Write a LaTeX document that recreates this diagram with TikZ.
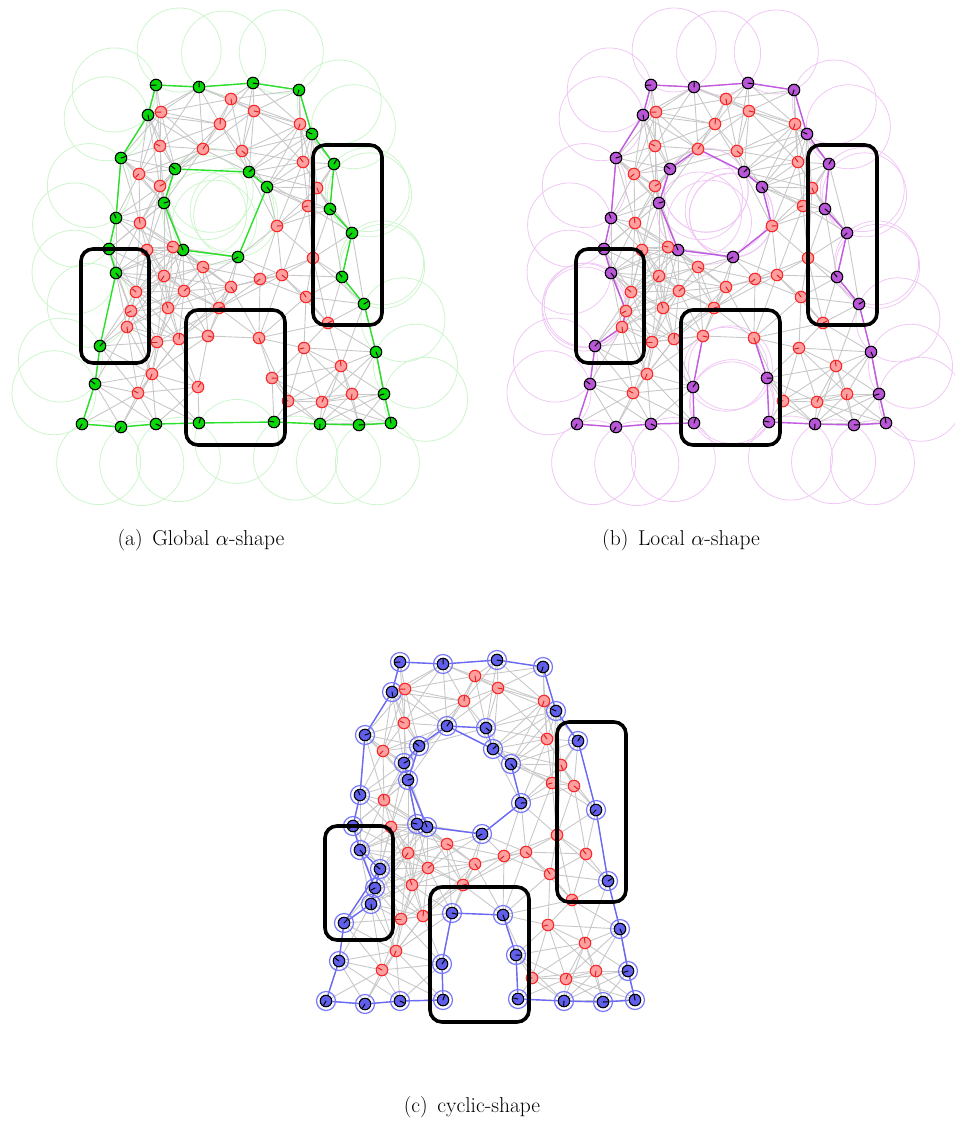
\documentclass[tikz,border=0pt]{standalone}
\usetikzlibrary{calc}
\pgfdeclarelayer{balls}
\pgfdeclarelayer{mesh}
\pgfdeclarelayer{bnd}
\pgfdeclarelayer{front}
\pgfsetlayers{balls,mesh,bnd,main,front}

\definecolor{cGf}{RGB}{10,215,10}
\definecolor{cGl}{RGB}{40,225,40}
\definecolor{cGb}{RGB}{205,245,205}
\definecolor{cRf}{RGB}{255,160,160}
\definecolor{cRd}{RGB}{250,40,40}
\definecolor{cRt}{RGB}{215,35,35}
\definecolor{cPf}{RGB}{185,85,215}
\definecolor{cPl}{RGB}{195,90,225}
\definecolor{cPb}{RGB}{240,200,245}
\definecolor{cBf}{RGB}{95,95,235}
\definecolor{cBl}{RGB}{105,105,245}
\definecolor{cBr}{RGB}{120,120,250}
\definecolor{cMesh}{RGB}{200,200,200}

\tikzset{
  pnode/.style={circle, inner sep=0pt, minimum size=11.5pt, line width=1.1pt},
  rednode/.style={pnode, draw=cRd, fill=cRf},
  gnode/.style={pnode, draw=black, fill=cGf},
  vnode/.style={pnode, draw=black, fill=cPf},
  bnode/.style={pnode, draw=black, fill=cBf},
  meshline/.style={draw=cMesh, line width=0.9pt},
  tickline/.style={line width=1pt, line cap=round},
  gbound/.style={draw=cGl, line width=1.4pt},
  vbound/.style={draw=cPl, line width=1.4pt},
  bbound/.style={draw=cBl, line width=1.4pt},
  gball/.style={draw=cGb, line width=0.8pt},
  vball/.style={draw=cPb, line width=0.8pt},
  bring/.style={draw=cBr, line width=1.2pt},
  blackbox/.style={draw=black, line width=3.6pt, rounded corners=12pt, inner sep=0pt},
  captext/.style={anchor=base, inner sep=0pt, font=\fontsize{21.5}{25}\selectfont},
}

\def\nonestr{none}
\def\pts{G1/82/424,G2/95/384,G3/100/346,G4/116/273,G5/109/249,G6/116/218,G7/121/158,G8/148/115,G9/156/85,G10/199/87,%
G11/253/83,G12/299/90,G13/312/134,G14/334/164,G15/330/209,G16/352/233,G17/342/277,G18/364/304,G19/376/352,G20/384/394,%
G21/391/423,G22/359/425,G23/320/424,G24/274/422,G25/199/423,G26/156/424,G27/121/427,%
H1/175/169,H2/249/172,H3/267/187,H4/238/257,H5/183/250,H6/164/203,%
R1/231/99,R2/161/112,R3/220/124,R4/254/111,R5/300/124,R6/160/146,R7/203/149,R8/242/151,R9/139/174,R10/303/162,%
R11/160/186,R12/317/188,R13/308/206,R14/140/223,R15/277/226,R16/147/250,R17/173/247,R18/313/258,R19/203/267,R20/164/276,%
R21/136/292,R22/184/291,R23/231/287,R24/131/311,R25/168/308,R26/219/308,R27/127/327,R28/157/342,R29/179/339,R30/208/336,%
R31/152/374,R32/138/393,R33/198/387,R34/282/275,R35/260/279,R36/306/297,R37/328/323,R38/259/338,R39/304/348,R40/341/366,%
R41/272/378,R42/352/394,R43/288/401,R44/322/402}

\foreach \nA/\xA/\yA [count=\k] in \pts {%
  \expandafter\xdef\csname pn\k\endcsname{\nA}%
  \expandafter\xdef\csname px\k\endcsname{\xA}%
  \expandafter\xdef\csname py\k\endcsname{\yA}%
}

\newcommand\setspecial[2]{\edef\tmpL{#2}\foreach \sS in \tmpL {\expandafter\gdef\csname is#1\sS\endcsname{}}}
\def\allG{G1,G2,G3,G4,G5,G6,G7,G8,G9,G10,G11,G12,G13,G14,G15,G16,G17,G18,G19,G20,G21,G22,G23,G24,G25,G26,G27}
\def\blueset{G1,G2,G3,G4,G5,G6,G7,G8,G9,G10,G11,G12,G13,G14,G16,G18,G19,G20,G21,G22,G23,G24,G25,G26,G27,H1,H2,H3,H4,H5,H6,R7,R8,R11,R15,R17,R21,R24,R27,R30,R33,R38,R41}
\setspecial{a}{\allG,H1,H2,H3,H4,H5,H6}
\setspecial{b}{\allG,H1,H2,H3,H4,H5,H6,R33,R41}
\setspecial{c}{\blueset}

\newcommand\panel[4]{%
  \foreach \k in {1,...,77}{%
    \edef\nm{\csname pn\k\endcsname}%
    \edef\xx{\csname px\k\endcsname}%
    \edef\yy{\csname py\k\endcsname}%
    \pgfmathtruncatemacro\tk{mod(\k*97+23,360)}%
    \ifcsname is#1\nm\endcsname
      \tikzset{cur/.style={#4}}\def\tkc{black}%
    \else
      \tikzset{cur/.style={rednode}}\def\tkc{cRt}%
    \fi
    \node[cur] (#1-\nm) at ({\xx+#2},{\yy+#3}) {};
    \draw[tickline,draw=\tkc] (#1-\nm.center) -- ++(\tk:4.6);
  }}

\newcommand\chain[3]{%
  \foreach \bq [remember=\bq as \bp (initially none)] in {#2}{%
    \ifx\bp\nonestr\else\draw[#3] (#1-\bp) -- (#1-\bq);\fi}}

\newcommand\balls[4]{%
  \foreach \bq [remember=\bq as \bp (initially none)] in {#2}{%
    \ifx\bp\nonestr\else
      \draw[#3] let \p1=(#1-\bp.center), \p2=(#1-\bq.center),
        \n1={atan2(\y2-\y1,\x2-\x1)},
        \n2={veclen(\x2-\x1,\y2-\y1)/2},
        \n3={sqrt(max(#4*#4-\n2*\n2,0))} in
        ({(\x1+\x2)/2+\n3*cos(\n1+90)},{(\y1+\y2)/2+\n3*sin(\n1+90)}) circle[radius=#4pt];
    \fi}}

\newcommand\boxes[3]{%
  \node[blackbox, minimum width=68pt, minimum height=114pt] (#1-boxL) at ({115+#2},{306+#3}) {};
  \node[blackbox, minimum width=99pt, minimum height=135pt] (#1-boxB) at ({235.5+#2},{377.5+#3}) {};
  \node[blackbox, minimum width=69pt, minimum height=180pt] (#1-boxR) at ({347.5+#2},{235+#3}) {};
}

\begin{document}
\begin{tikzpicture}[x=1pt,y=-1pt]
\useasboundingbox (0,0) rectangle (955,1135);

% nodes of the three panels
\panel{a}{0}{0}{gnode}
\panel{b}{495}{0}{vnode}
\panel{c}{244}{577}{bnode}

% communication mesh
\begin{pgfonlayer}{mesh}
\foreach \i in {1,...,76}{%
  \pgfmathtruncatemacro\iN{\i+1}%
  \edef\xI{\csname px\i\endcsname}\edef\yI{\csname py\i\endcsname}\edef\mI{\csname pn\i\endcsname}%
  \foreach \j in {\iN,...,77}{%
    \edef\xJ{\csname px\j\endcsname}\edef\yJ{\csname py\j\endcsname}%
    \pgfmathsetmacro\dd{veclen(\xI-\xJ,\yI-\yJ)}%
    \ifdim\dd pt<74pt
      \edef\mJ{\csname pn\j\endcsname}%
      \draw[meshline] (a-\mI) -- (a-\mJ) (b-\mI) -- (b-\mJ) (c-\mI) -- (c-\mJ);
    \fi
  }}
\end{pgfonlayer}

% boundaries
\begin{pgfonlayer}{bnd}
\chain{a}{G1,G2,G3,G4,G5,G6,G7,G8,G9,G10,G11,G12,G13,G14,G15,G16,G17,G18,G19,G20,G21,G22,G23,G24,G25,G26,G27,G1}{gbound}
\chain{a}{H1,H2,H3,H4,H5,H6,H1}{gbound}

\chain{b}{G1,G2,G3,R27,R24,G4,G5,G6,G7,G8,G9,G10,G11,G12,G13,G14,G15,G16,G17,G18,G19,G20,G21,G22,G23,G24,R41,R38}{vbound}
\chain{b}{R30,R33,G25,G26,G27,G1}{vbound}
\chain{b}{H1,R7,H2,H3,R15,H4,H5,H6,H1}{vbound}

\chain{c}{G1,G2,G3,R27,R24,R21,G4,G5,G6,G7,G8,G9,G10,G11,G12,G13,G14,G16,G18,G19,G20,G21,G22,G23,G24,R41,R38,R30,R33,G25,G26,G27,G1}{bbound}
\chain{c}{G3,R21}{bbound}
\chain{c}{G4,R24}{bbound}
\chain{c}{R7,R8,H2,H3,R15,H4,H5,R17,H6,R11,H1,R7}{bbound}
\chain{c}{R7,H2}{bbound}
\chain{c}{H1,H6}{bbound}
\chain{c}{H5,H6}{bbound}
\foreach \sS in \blueset {\draw[bring] (c-\sS.center) circle[radius=9.5pt];}
\end{pgfonlayer}

% alpha balls
\begin{pgfonlayer}{balls}
\balls{a}{G1,G2,G3,G4,G5,G6,G7,G8,G9,G10,G11,G12,G13,G14,G15,G16,G17,G18,G19,G20,G21,G22,G23,G24,G25,G26,G27,G1}{gball}{42}
\balls{a}{H1,H6,H5,H4,H3,H2,H1}{gball}{42}
\balls{b}{G1,G2,G3,R27,R24,G4,G5,G6,G7,G8,G9,G10,G11,G12,G13,G14,G15,G16,G17,G18,G19,G20,G21,G22,G23,G24,R41,R38}{vball}{42}
\balls{b}{R30,R33,G25,G26,G27,G1}{vball}{42}
\balls{b}{H1,H6,H5,H4,R15,H3,H2,R7,H1}{vball}{42}
\end{pgfonlayer}

% highlight boxes
\begin{pgfonlayer}{front}
\boxes{a}{0}{0}
\boxes{b}{495}{0}
\boxes{c}{244}{577}
\end{pgfonlayer}

% captions
\node[captext] (capA) at (201,545) {(a)\hspace{0.45em}Global $\alpha$-shape};
\node[captext] (capB) at (681,545) {(b)\hspace{0.45em}Local $\alpha$-shape};
\node[captext] (capC) at (472,1112) {(c)\hspace{0.45em}cyclic-shape};
\end{tikzpicture}
\end{document}
